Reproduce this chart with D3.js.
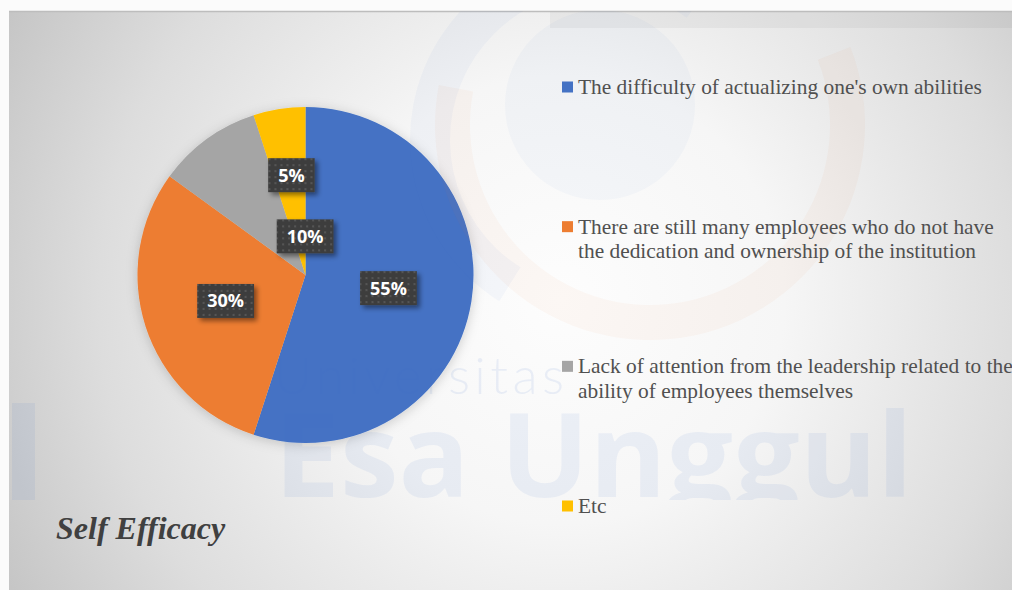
<!DOCTYPE html>
<html>
<head>
<meta charset="utf-8">
<script src="https://cdn.jsdelivr.net/npm/d3@7"></script>
<style>
  html, body { margin: 0; padding: 0; background: #fbfbfb; }
  svg { display: block; }
</style>
</head>
<body>
<svg id="chart"></svg>
<script>
// chart data
var categories = [
  "The difficulty of actualizing one's own abilities",
  "There are still many employees who do not have\nthe dedication and ownership of the institution",
  "Lack of attention from the leadership related to the\nability of employees themselves",
  "Etc"
]
var shares = [55, 30, 10, 5]
var colors = ["#4472C4", "#ED7D31", "#A5A5A5", "#FFC000"]
var title = "Self Efficacy"

var width = 1012, height = 590
var cx = 305.5, cy = 275, radius = 168

// label placement tweaks (Excel best-fit pushed small slices' labels around)
var labelPlacement = [
  { k: 0.50, a: null },
  { k: 0.50, a: null },
  { k: 0.23, a: -0.01 },
  { k: 0.60, a: -0.14 }
]

var svg = d3.select('#chart').attr('width', width).attr('height', height)
var defs = svg.append('defs')

// background gradient
var bg = defs.append('radialGradient').attr('id', 'bg')
  .attr('gradientUnits', 'userSpaceOnUse')
  .attr('cx', 560).attr('cy', 300).attr('r', 640)
bg.append('stop').attr('offset', 0).attr('stop-color', '#fdfdfd')
bg.append('stop').attr('offset', 0.35).attr('stop-color', '#f6f6f6')
bg.append('stop').attr('offset', 0.72).attr('stop-color', '#dddddd')
bg.append('stop').attr('offset', 1).attr('stop-color', '#c3c3c3')

// checker pattern for the label boxes
var pat = defs.append('pattern').attr('id', 'dots')
  .attr('patternUnits', 'userSpaceOnUse').attr('width', 6).attr('height', 6)
pat.append('rect').attr('width', 6).attr('height', 6).attr('fill', '#3e3e3e')
pat.append('rect').attr('x', 1).attr('y', 1).attr('width', 2).attr('height', 2).attr('fill', '#555555')

var sh = defs.append('filter').attr('id', 'boxShadow')
  .attr('x', '-30%').attr('y', '-30%').attr('width', '160%').attr('height', '160%')
sh.append('feDropShadow').attr('dx', 3).attr('dy', 3).attr('stdDeviation', 2.5)
  .attr('flood-color', '#000').attr('flood-opacity', 0.45)

var pieShadow = defs.append('filter').attr('id', 'pieShadow')
  .attr('x', '-20%').attr('y', '-20%').attr('width', '140%').attr('height', '140%')
pieShadow.append('feDropShadow').attr('dx', 0).attr('dy', 2).attr('stdDeviation', 6)
  .attr('flood-color', '#000').attr('flood-opacity', 0.18)

defs.append('clipPath').attr('id', 'wmClip')
  .append('rect').attr('x', 9).attr('y', 11).attr('width', width - 9).attr('height', 489)

// slide background
svg.append('rect').attr('width', width).attr('height', height).attr('fill', '#fbfbfb')
svg.append('rect').attr('x', 9).attr('y', 11).attr('width', width - 9).attr('height', height - 11)
  .attr('fill', 'url(#bg)')
svg.append('rect').attr('x', 550).attr('y', 12).attr('width', width - 550).attr('height', 16)
  .attr('fill', '#000').attr('opacity', 0.04)
svg.append('line').attr('x1', 9).attr('x2', width).attr('y1', 11.5).attr('y2', 11.5)
  .attr('stroke', '#bdbdbd').attr('stroke-width', 1.5)

// pie
var pie = d3.pie().sort(null).value(function (d) { return d })
var arcs = pie(shares)
var arc = d3.arc().innerRadius(0).outerRadius(radius)

var g = svg.append('g').attr('transform', 'translate(' + cx + ',' + cy + ')')
g.append('g').attr('filter', 'url(#pieShadow)')
  .selectAll('path')
  .data(arcs)
  .enter().append('path')
    .attr('d', arc)
    .attr('fill', function (d, i) { return colors[i] })

// watermark (drawn over everything, very faint)
var wm = svg.append('g').attr('clip-path', 'url(#wmClip)').style('pointer-events', 'none')
var wmArc = d3.arc()
wm.append('circle').attr('cx', 600).attr('cy', 105).attr('r', 95)
  .attr('fill', '#4a7fd0').attr('opacity', 0.04)
wm.append('path').attr('transform', 'translate(600,140)')
  .attr('d', wmArc({ innerRadius: 150, outerRadius: 190, startAngle: 3.7, endAngle: 6.9 }))
  .attr('fill', '#4a7fd0').attr('opacity', 0.045)
wm.append('path').attr('transform', 'translate(650,125)')
  .attr('d', wmArc({ innerRadius: 180, outerRadius: 215, startAngle: 1.2, endAngle: 4.9 }))
  .attr('fill', '#ED7D31').attr('opacity', 0.045)
wm.append('rect').attr('x', 12).attr('y', 403).attr('width', 23).attr('height', 100)
  .attr('fill', '#3c6ec8').attr('opacity', 0.08)
wm.append('text').text('Universitas')
  .attr('x', 274).attr('y', 394)
  .attr('textLength', 290).attr('lengthAdjust', 'spacing')
  .attr('font-family', 'Lato, "DejaVu Sans", sans-serif').attr('font-weight', 300)
  .attr('font-size', 52)
  .attr('fill', '#3c6ec8').attr('opacity', 0.09)
wm.append('text').text('Esa Unggul')
  .attr('x', 274).attr('y', 497)
  .attr('textLength', 639).attr('lengthAdjust', 'spacingAndGlyphs')
  .attr('font-family', '"Open Sans", sans-serif').attr('font-weight', 700)
  .attr('font-size', 116)
  .attr('fill', '#3c6ec8').attr('opacity', 0.075)

// data labels
var labelPos = function (d, i) {
  var p = labelPlacement[i]
  var a = p.a === null ? (d.startAngle + d.endAngle) / 2 : p.a
  var r = radius * p.k
  return [Math.sin(a) * r, -Math.cos(a) * r]
}

var labels = g.append('g').selectAll('g')
  .data(arcs)
  .enter().append('g')
    .attr('transform', function (d, i) { return 'translate(' + labelPos(d, i) + ')' })

labels.append('rect').attr('class', 'box')
labels.append('text')
  .text(function (d) { return d.data + '%' })
  .attr('text-anchor', 'middle')
  .attr('dy', 6.5)
  .attr('font-family', '"Open Sans", sans-serif')
  .attr('font-weight', 700)
  .attr('font-size', 18)
  .attr('fill', '#ffffff')

labels.each(function () {
  var t = d3.select(this).select('text')
  var w = t.node().getComputedTextLength() + 20
  d3.select(this).select('rect')
    .attr('x', -w / 2).attr('y', -17).attr('width', w).attr('height', 34)
    .attr('fill', 'url(#dots)')
    .attr('filter', 'url(#boxShadow)')
})

// legend
var legendY = d3.scalePoint().domain(categories).range([87, 506])
var legend = svg.append('g').selectAll('g')
  .data(categories)
  .enter().append('g')
    .attr('transform', function (d) { return 'translate(562,' + legendY(d) + ')' })

legend.append('rect')
  .attr('x', 0).attr('y', -5.5).attr('width', 11).attr('height', 11)
  .attr('fill', function (d, i) { return colors[i] })

legend.append('text')
  .attr('x', 16).attr('y', 7)
  .attr('font-family', '"Liberation Serif", "Times New Roman", serif')
  .attr('font-size', 21.4)
  .attr('fill', '#505050')
  .selectAll('tspan')
  .data(function (d) { return d.split('\n') })
  .enter().append('tspan')
    .attr('x', 16)
    .attr('dy', function (d, i) { return i === 0 ? 0 : 24.5 })
    .text(function (d) { return d })

// title
svg.append('text').text(title)
  .attr('x', 56).attr('y', 539)
  .attr('font-family', '"Liberation Serif", "Times New Roman", serif')
  .attr('font-style', 'italic').attr('font-weight', 700)
  .attr('font-size', 32)
  .attr('fill', '#404040')
</script>
</body>
</html>
